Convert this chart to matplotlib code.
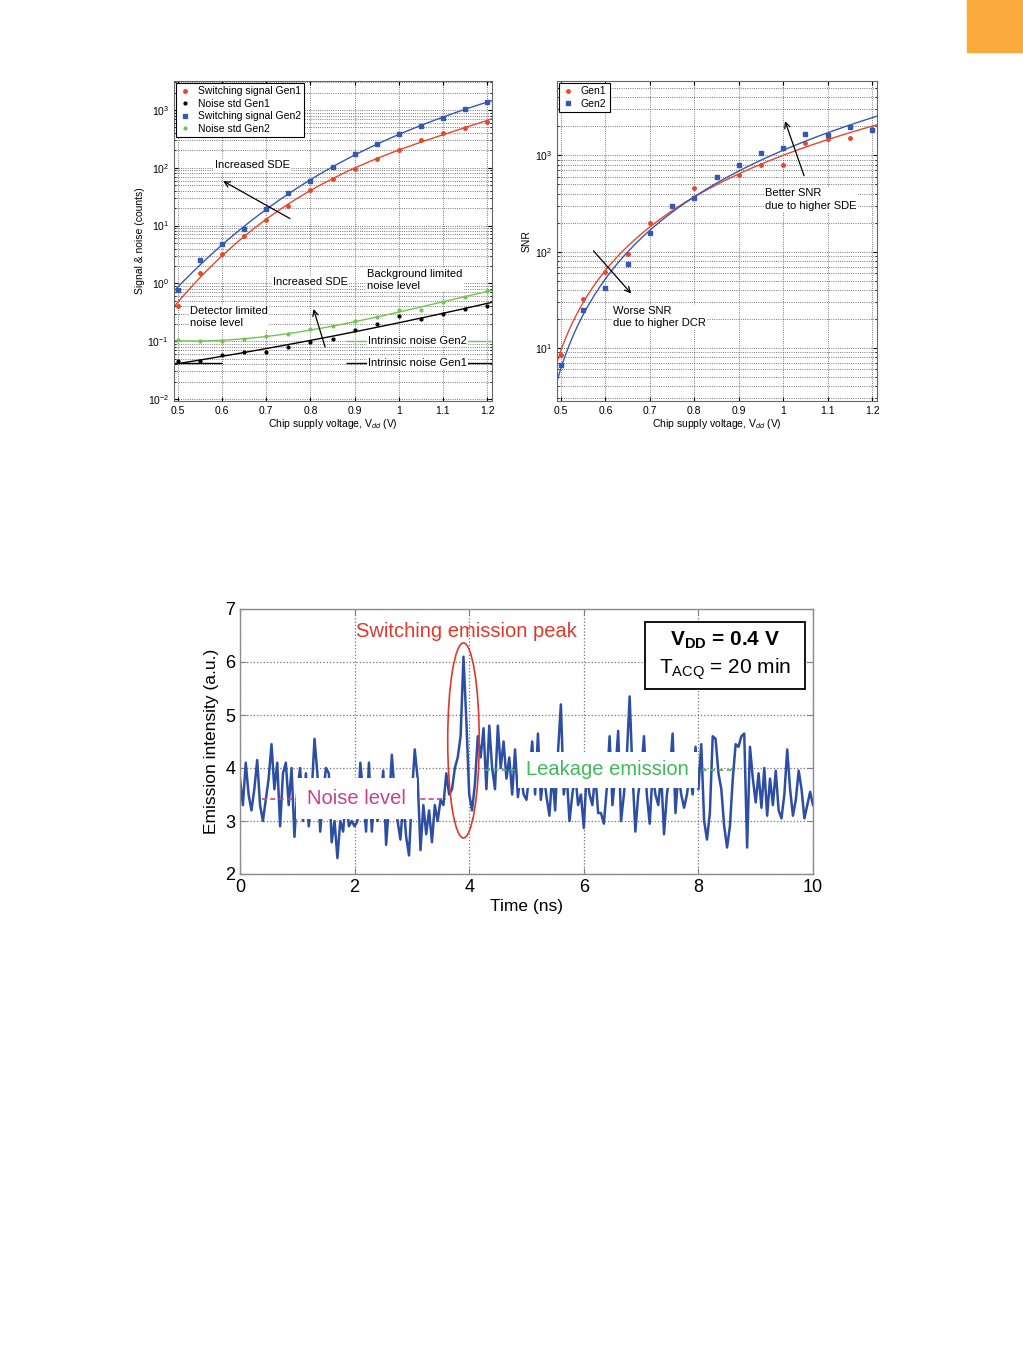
import matplotlib.pyplot as plt
import numpy as np
from matplotlib.patches import Ellipse, Rectangle

plt.rcParams['font.family'] = ['Liberation Sans', 'DejaVu Sans']
plt.rcParams['mathtext.fontset'] = 'custom'
plt.rcParams['mathtext.rm'] = 'Liberation Sans'
plt.rcParams['mathtext.it'] = 'Liberation Sans:italic'
plt.rcParams['mathtext.bf'] = 'Liberation Sans:bold'

# ---- data: top left (signal & noise) ----
vdd = [0.5, 0.55, 0.6, 0.65, 0.7, 0.75, 0.8, 0.85, 0.9, 0.95, 1.0, 1.05, 1.1, 1.15, 1.2]
sig_gen1 = [0.41, 1.5, 3.2, 6.5, 12.6, 22, 41, 63, 94, 140, 204, 300, 400, 480, 630]
sig_gen2 = [0.78, 2.5, 4.8, 8.7, 19, 36, 59, 103, 173, 258, 380, 535, 735, 1040, 1360]
noise_gen1 = [0.045, 0.045, 0.058, 0.066, 0.065, 0.078, 0.098, 0.107, 0.154, 0.196, 0.275, 0.24, 0.30, 0.36, 0.41]
noise_gen2 = [0.104, 0.10, 0.10, 0.11, 0.124, 0.131, 0.16, 0.18, 0.22, 0.26, 0.35, 0.35, 0.48, 0.59, 0.74]
intrinsic_gen1 = 0.042
intrinsic_gen2 = 0.1

# ---- data: top right (SNR) ----
snr_gen1 = [8.5, 32, 62, 94, 200, 300, 452, 595, 630, 787, 800, 1340, 1465, 1520, 1850]
snr_gen2 = [6.7, 25, 41.5, 74, 157, 296, 361, 597, 787, 1057, 1190, 1650, 1610, 1960, 1810]
v_threshold = 0.42  # offset used by the power-law fit of the SNR curves

# ---- data: bottom (emission trace, 0..10 ns every 0.05 ns) ----
trace = [
    3.8, 3.3, 4.1, 3.5, 3.2, 3.6, 4.15, 3.3, 3.0, 3.4, 3.8, 4.45, 3.6, 4.1, 2.9, 3.9, 4.1, 3.3, 4.0, 2.7,
    3.6, 4.0, 3.0, 3.9, 2.9, 3.5, 4.55, 3.9, 2.8, 3.5, 4.0, 3.9, 2.6, 3.0, 2.3, 3.0, 2.8, 3.5, 2.9, 3.0,
    2.9, 3.0, 4.1, 3.5, 2.8, 4.1, 2.8, 3.5, 3.0, 3.3, 3.95, 2.55, 3.3, 4.25, 3.5, 3.0, 2.65, 3.4, 2.7, 2.35,
    3.5, 4.35, 3.8, 2.45, 3.3, 2.75, 3.2, 2.6, 3.3, 3.0, 3.4, 3.3, 3.9, 3.5, 3.6, 4.0, 4.2, 4.6, 6.1, 4.9,
    3.5, 3.2, 3.7, 4.6, 4.2, 4.75, 3.6, 4.8, 4.0, 3.6, 4.8, 4.0, 4.5, 3.8, 4.2, 3.5, 4.35, 3.45, 3.9, 3.5,
    3.4, 3.9, 4.5, 3.5, 4.65, 3.4, 3.9, 3.45, 3.1, 3.9, 3.2, 4.3, 5.2, 3.5, 3.9, 3.0, 3.5, 3.9, 3.3, 3.5,
    2.87, 3.9, 3.5, 3.3, 3.9, 3.15, 3.15, 2.95, 3.6, 4.6, 3.3, 3.9, 4.7, 3.0, 3.5, 4.2, 5.35, 3.9, 2.8, 3.5,
    3.9, 4.6, 3.5, 2.95, 3.9, 3.5, 3.3, 3.9, 2.75, 3.5, 3.9, 4.65, 3.15, 3.9, 3.5, 3.25, 3.5, 3.9, 3.5, 4.4,
    3.6, 4.45, 3.0, 2.65, 3.15, 4.6, 4.55, 3.9, 3.6, 2.9, 2.5, 2.9, 3.8, 4.45, 4.4, 4.6, 4.65, 2.5, 4.4, 3.8,
    3.35, 3.9, 3.25, 4.0, 3.1, 3.8, 3.3, 3.95, 3.2, 3.05, 3.5, 4.35, 3.6, 3.1, 3.4, 3.95, 3.6, 3.05, 3.3, 3.55, 3.3,
]
time_ns = np.linspace(0, 10, len(trace))

RED = '#e8462a'
BLUE = '#3558b0'
GREEN = '#72c353'
W, H = 1023, 1369

fig = plt.figure(figsize=(W / 100, H / 100), dpi=100)
fig.patches.append(Rectangle((967 / W, 1 - 52 / H), 56 / W, 52 / H,
                             transform=fig.transFigure, color='#fbab3c'))


def style_top(ax):
    ax.set_xlim(0.491, 1.211)
    ax.set_xticks([0.5, 0.6, 0.7, 0.8, 0.9, 1, 1.1, 1.2])
    ax.set_xticklabels(['0.5', '0.6', '0.7', '0.8', '0.9', '1', '1.1', '1.2'])
    ax.tick_params(which='both', direction='in', top=True, right=True, labelsize=7.5)
    ax.tick_params(which='major', length=3)
    ax.tick_params(which='minor', length=1.5)
    ax.grid(True, which='both', linestyle=':', color='0.3', lw=0.6)
    for s in ax.spines.values():
        s.set_color('0.4')
        s.set_linewidth(0.8)
    ax.set_xlabel('Chip supply voltage, V$_{dd}$ (V)', fontsize=7.5, labelpad=1)


def fit(x, y, xf, deg=3):
    p = np.polyfit(x, np.log10(y), deg)
    return 10 ** np.polyval(p, xf)


def fit_pow(x, y, xf, x0):
    p = np.polyfit(np.log10(np.array(x) - x0), np.log10(y), 1)
    return 10 ** np.polyval(p, np.log10(xf - x0))


xf = np.linspace(0.49, 1.21, 200)
box = dict(boxstyle='square,pad=0.1', fc='white', ec='none')

# ---------- top left ----------
ax1 = fig.add_axes([174 / W, 1 - 401 / H, 318 / W, 320 / H])
ax1.set_yscale('log')
ax1.set_ylim(10 ** -2.035, 10 ** 3.5)
ax1.plot(vdd, sig_gen1, '.', color=RED, ms=5, label='Switching signal Gen1')
ax1.plot(vdd, noise_gen1, '.', color='black', ms=4, label='Noise std Gen1')
ax1.plot(vdd, sig_gen2, 's', color=BLUE, ms=2.8, label='Switching signal Gen2')
ax1.plot(vdd, noise_gen2, '.', color=GREEN, ms=4, label='Noise std Gen2')
ax1.plot(xf, fit(vdd, sig_gen1, xf), color=RED, lw=1.0)
ax1.plot(xf, fit(vdd, sig_gen2, xf), color=BLUE, lw=1.0)
ax1.plot(xf, fit(vdd, noise_gen1, xf, 2), color='black', lw=1.0)
ax1.plot(xf, fit(vdd, noise_gen2, xf), color=GREEN, lw=1.0)
ax1.hlines(intrinsic_gen1, 0.491, 0.6, color='black', lw=1.0)
ax1.hlines(intrinsic_gen1, 0.88, 1.211, color='black', lw=1.0)
ax1.hlines(intrinsic_gen2, 0.88, 1.211, color=GREEN, lw=1.0)
style_top(ax1)
ax1.set_ylabel('Signal & noise (counts)', fontsize=7.5, labelpad=2)
leg = ax1.legend(loc='upper left', fontsize=7.5, frameon=True, fancybox=False,
                 edgecolor='black', framealpha=1, handlelength=1.2, handletextpad=0.6,
                 borderpad=0.3, labelspacing=0.25, borderaxespad=0.2)
leg.get_frame().set_linewidth(0.8)

ax1.text(0.669, 112, 'Increased SDE', fontsize=8, ha='center', va='center', bbox=box)
ax1.annotate('', xy=(0.597, 62), xytext=(0.759, 12.5),
             arrowprops=dict(arrowstyle='->', lw=0.9, color='black'))
ax1.text(0.80, 1.07, 'Increased SDE', fontsize=8, ha='center', va='center', bbox=box)
ax1.annotate('', xy=(0.805, 0.4), xytext=(0.835, 0.071),
             arrowprops=dict(arrowstyle='->', lw=0.9, color='black'))
ax1.text(0.929, 1.15, 'Background limited\nnoise level', fontsize=8, ha='left',
         va='center', bbox=box, linespacing=1.3)
ax1.text(0.527, 0.26, 'Detector limited\nnoise level', fontsize=8, ha='left',
         va='center', bbox=box, linespacing=1.3)
ax1.text(0.93, intrinsic_gen2, 'Intrinsic noise Gen2', fontsize=8, ha='left',
         va='center', bbox=box, zorder=5)
ax1.text(0.93, intrinsic_gen1, 'Intrinsic noise Gen1', fontsize=8, ha='left',
         va='center', bbox=box, zorder=5)

# ---------- top right ----------
ax2 = fig.add_axes([557 / W, 1 - 401 / H, 320 / W, 320 / H])
ax2.set_yscale('log')
ax2.set_ylim(10 ** 0.45, 10 ** 3.77)
ax2.plot(vdd, snr_gen1, '.', color=RED, ms=5, label='Gen1')
ax2.plot(vdd, snr_gen2, 's', color=BLUE, ms=2.8, label='Gen2')
ax2.plot(xf, fit_pow(vdd, snr_gen1, xf, v_threshold), color=RED, lw=1.0)
ax2.plot(xf, fit_pow(vdd, snr_gen2, xf, v_threshold), color=BLUE, lw=1.0)
style_top(ax2)
ax2.set_ylabel('SNR', fontsize=7.5, labelpad=2)
leg2 = ax2.legend(loc='upper left', fontsize=7.5, frameon=True, fancybox=False,
                  edgecolor='black', framealpha=1, handlelength=1.2, handletextpad=0.6,
                  borderpad=0.3, labelspacing=0.25, borderaxespad=0.2)
leg2.get_frame().set_linewidth(0.8)
ax2.text(0.959, 347, 'Better SNR\ndue to higher SDE', fontsize=8, ha='left',
         va='center', bbox=box, linespacing=1.3)
ax2.annotate('', xy=(1.002, 2400), xytext=(1.049, 575),
             arrowprops=dict(arrowstyle='->', lw=0.9, color='black'))
ax2.text(0.617, 21, 'Worse SNR\ndue to higher DCR', fontsize=8, ha='left',
         va='center', bbox=box, linespacing=1.3)
ax2.annotate('', xy=(0.662, 35), xytext=(0.569, 107),
             arrowprops=dict(arrowstyle='->', lw=0.9, color='black'))

# ---------- bottom ----------
ax3 = fig.add_axes([240 / W, 1 - 874 / H, 573 / W, 265 / H])
ax3.plot(time_ns, trace, color='#2d4ea3', lw=1.8, zorder=2)
ax3.set_xlim(0, 10)
ax3.set_ylim(2, 7)
ax3.set_xticks([0, 2, 4, 6, 8, 10])
ax3.set_yticks([2, 3, 4, 5, 6, 7])
ax3.tick_params(direction='in', top=True, right=True, labelsize=13, length=4, color='0.5')
ax3.grid(True, linestyle=':', color='0.45', lw=0.9)
for s in ax3.spines.values():
    s.set_color('0.55')
    s.set_linewidth(1.0)
ax3.set_xlabel('Time (ns)', fontsize=12.5, labelpad=2)
ax3.set_ylabel('Emission intensity (a.u.)', fontsize=12.5, labelpad=4)

ax3.text(3.96, 6.58, 'Switching emission peak', color='#e0382c', fontsize=14.5,
         ha='center', va='center')
ax3.add_patch(Ellipse((3.9, 4.52), 0.55, 3.68, fill=False, ec='#e0382c', lw=1.2, zorder=4))

ax3.hlines(3.42, 0.38, 3.6, colors='#c8418c', linestyles=(0, (3, 2)), lw=1.2, zorder=4)
ax3.text(2.04, 3.42, 'Noise level', color='#c8418c', fontsize=14.5, ha='center',
         va='center', zorder=5, bbox=dict(boxstyle='square,pad=0.55', fc='white', ec='none'))
ax3.hlines(3.97, 4.28, 8.6, colors='#3dba5a', linestyles=(0, (3, 2)), lw=1.2, zorder=4)
ax3.text(6.42, 3.97, 'Leakage emission', color='#3dba5a', fontsize=14.5, ha='center',
         va='center', zorder=5, bbox=dict(boxstyle='square,pad=0.42', fc='white', ec='none'))

ax3.add_patch(Rectangle((0.707, 0.698), 0.279, 0.253, transform=ax3.transAxes,
                        fc='white', ec='black', lw=1.3, zorder=6))
ax3.text(0.846, 0.883, r'V$_{\mathbf{DD}}$ = 0.4 V', transform=ax3.transAxes,
         fontsize=15, fontweight='bold', ha='center', va='center', zorder=7)
ax3.text(0.846, 0.772, r'T$_{\mathrm{ACQ}}$ = 20 min', transform=ax3.transAxes,
         fontsize=15, ha='center', va='center', zorder=7)

fig.savefig('out.png', dpi=100)
